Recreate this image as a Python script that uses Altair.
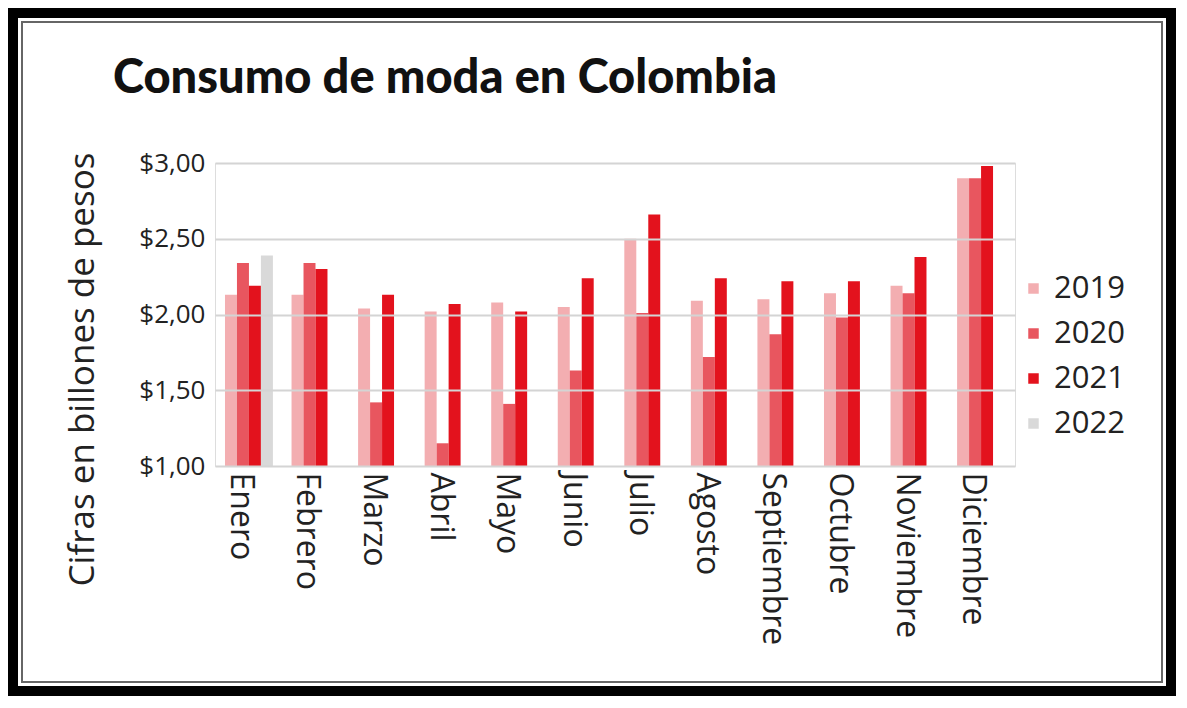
import altair as alt
import pandas as pd

months = ["Enero", "Febrero", "Marzo", "Abril", "Mayo", "Junio", "Julio",
          "Agosto", "Septiembre", "Octubre", "Noviembre", "Diciembre"]
years = ["2019", "2020", "2021", "2022"]
colors = ["#f3aeb1", "#e8565f", "#e3121d", "#d9d9d9"]

v2019 = [2.13, 2.13, 2.04, 2.02, 2.08, 2.05, 2.50, 2.09, 2.10, 2.14, 2.19, 2.90]
v2020 = [2.34, 2.34, 1.42, 1.15, 1.41, 1.63, 2.01, 1.72, 1.87, 1.98, 2.14, 2.90]
v2021 = [2.19, 2.30, 2.13, 2.07, 2.02, 2.24, 2.66, 2.24, 2.22, 2.22, 2.38, 2.98]
v2022_months = ["Enero"]
v2022 = [2.39]

y_ticks = [1.0, 1.5, 2.0, 2.5, 3.0]

rows = []
for yr, vals in (("2019", v2019), ("2020", v2020), ("2021", v2021)):
    for m, v in zip(months, vals):
        rows.append({"month": m, "year": yr, "value": v})
for m, v in zip(v2022_months, v2022):
    rows.append({"month": m, "year": "2022", "value": v})
df = pd.DataFrame(rows)

W, H = 800, 303
PL, PT, PR, PB = 207, 155, 161, 230
CW, CH = PL + W + PR, PT + H + PB
FONT = "Open Sans"

bars = alt.Chart(df).mark_bar().encode(
    x=alt.X("month:N", sort=months,
            scale=alt.Scale(paddingInner=0.28, paddingOuter=0.15),
            axis=alt.Axis(title=None, labelAngle=90, labelFontSize=32,
                          labelFont=FONT, labelColor="#222", ticks=False,
                          domain=False, labelPadding=6, labelOffset=-8, grid=False)),
    xOffset=alt.XOffset("year:N", scale=alt.Scale(domain=years, paddingInner=0, paddingOuter=0)),
    y=alt.Y("value:Q", scale=alt.Scale(domain=[1, 3], zero=False, nice=False),
            axis=alt.Axis(values=y_ticks,
                          labelExpr='"$" + replace(format(datum.value, ".2f"), ".", ",")',
                          title="Cifras en billones de pesos", titleFont=FONT,
                          titleFontSize=35, titleFontWeight="normal", titleColor="#222",
                          titleX=-115, titleY=206,
                          labelFont=FONT, labelFontSize=26, labelColor="#222",
                          labelPadding=10, ticks=False, domain=False,
                          grid=True, gridColor="#d4d4d4", gridWidth=2, zindex=1)),
    y2=alt.datum(1),
    color=alt.Color("year:N", scale=alt.Scale(domain=years, range=colors),
                    legend=alt.Legend(title=None, orient="none", legendX=803, legendY=110,
                                      symbolType="square", symbolSize=110,
                                      symbolStrokeWidth=0, labelFont=FONT,
                                      labelFontSize=31, labelColor="#222",
                                      rowPadding=13, labelOffset=5)),
)

frame_data = alt.Data(values=[{"k": 1}])
frame = alt.Chart(frame_data).mark_rect(fill=None, stroke="black", strokeWidth=10, clip=False).encode(
    x=alt.value(-PL + 5), x2=alt.value(CW - PL - 5),
    y=alt.value(-PT + 5), y2=alt.value(CH - PT - 5),
)
frame2 = alt.Chart(frame_data).mark_rect(fill=None, stroke="#666", strokeWidth=2, clip=False).encode(
    x=alt.value(-PL + 14), x2=alt.value(CW - PL - 14),
    y=alt.value(-PT + 14), y2=alt.value(CH - PT - 14),
)

chart = alt.layer(bars, frame, frame2).properties(
    width=W, height=H,
    autosize=alt.AutoSizeParams(type="none"),
    padding={"left": PL, "top": PT, "right": PR, "bottom": PB},
    title=alt.Title("Consumo de moda en Colombia", anchor="start", frame="group",
                    font="Lato", fontWeight=900, fontSize=47, color="#111",
                    baseline="alphabetic", dx=-102, dy=132, offset=0),
).configure_view(stroke=None).configure(background="white")

chart.save("out.html", embed_options={"renderer": "svg", "actions": False})
